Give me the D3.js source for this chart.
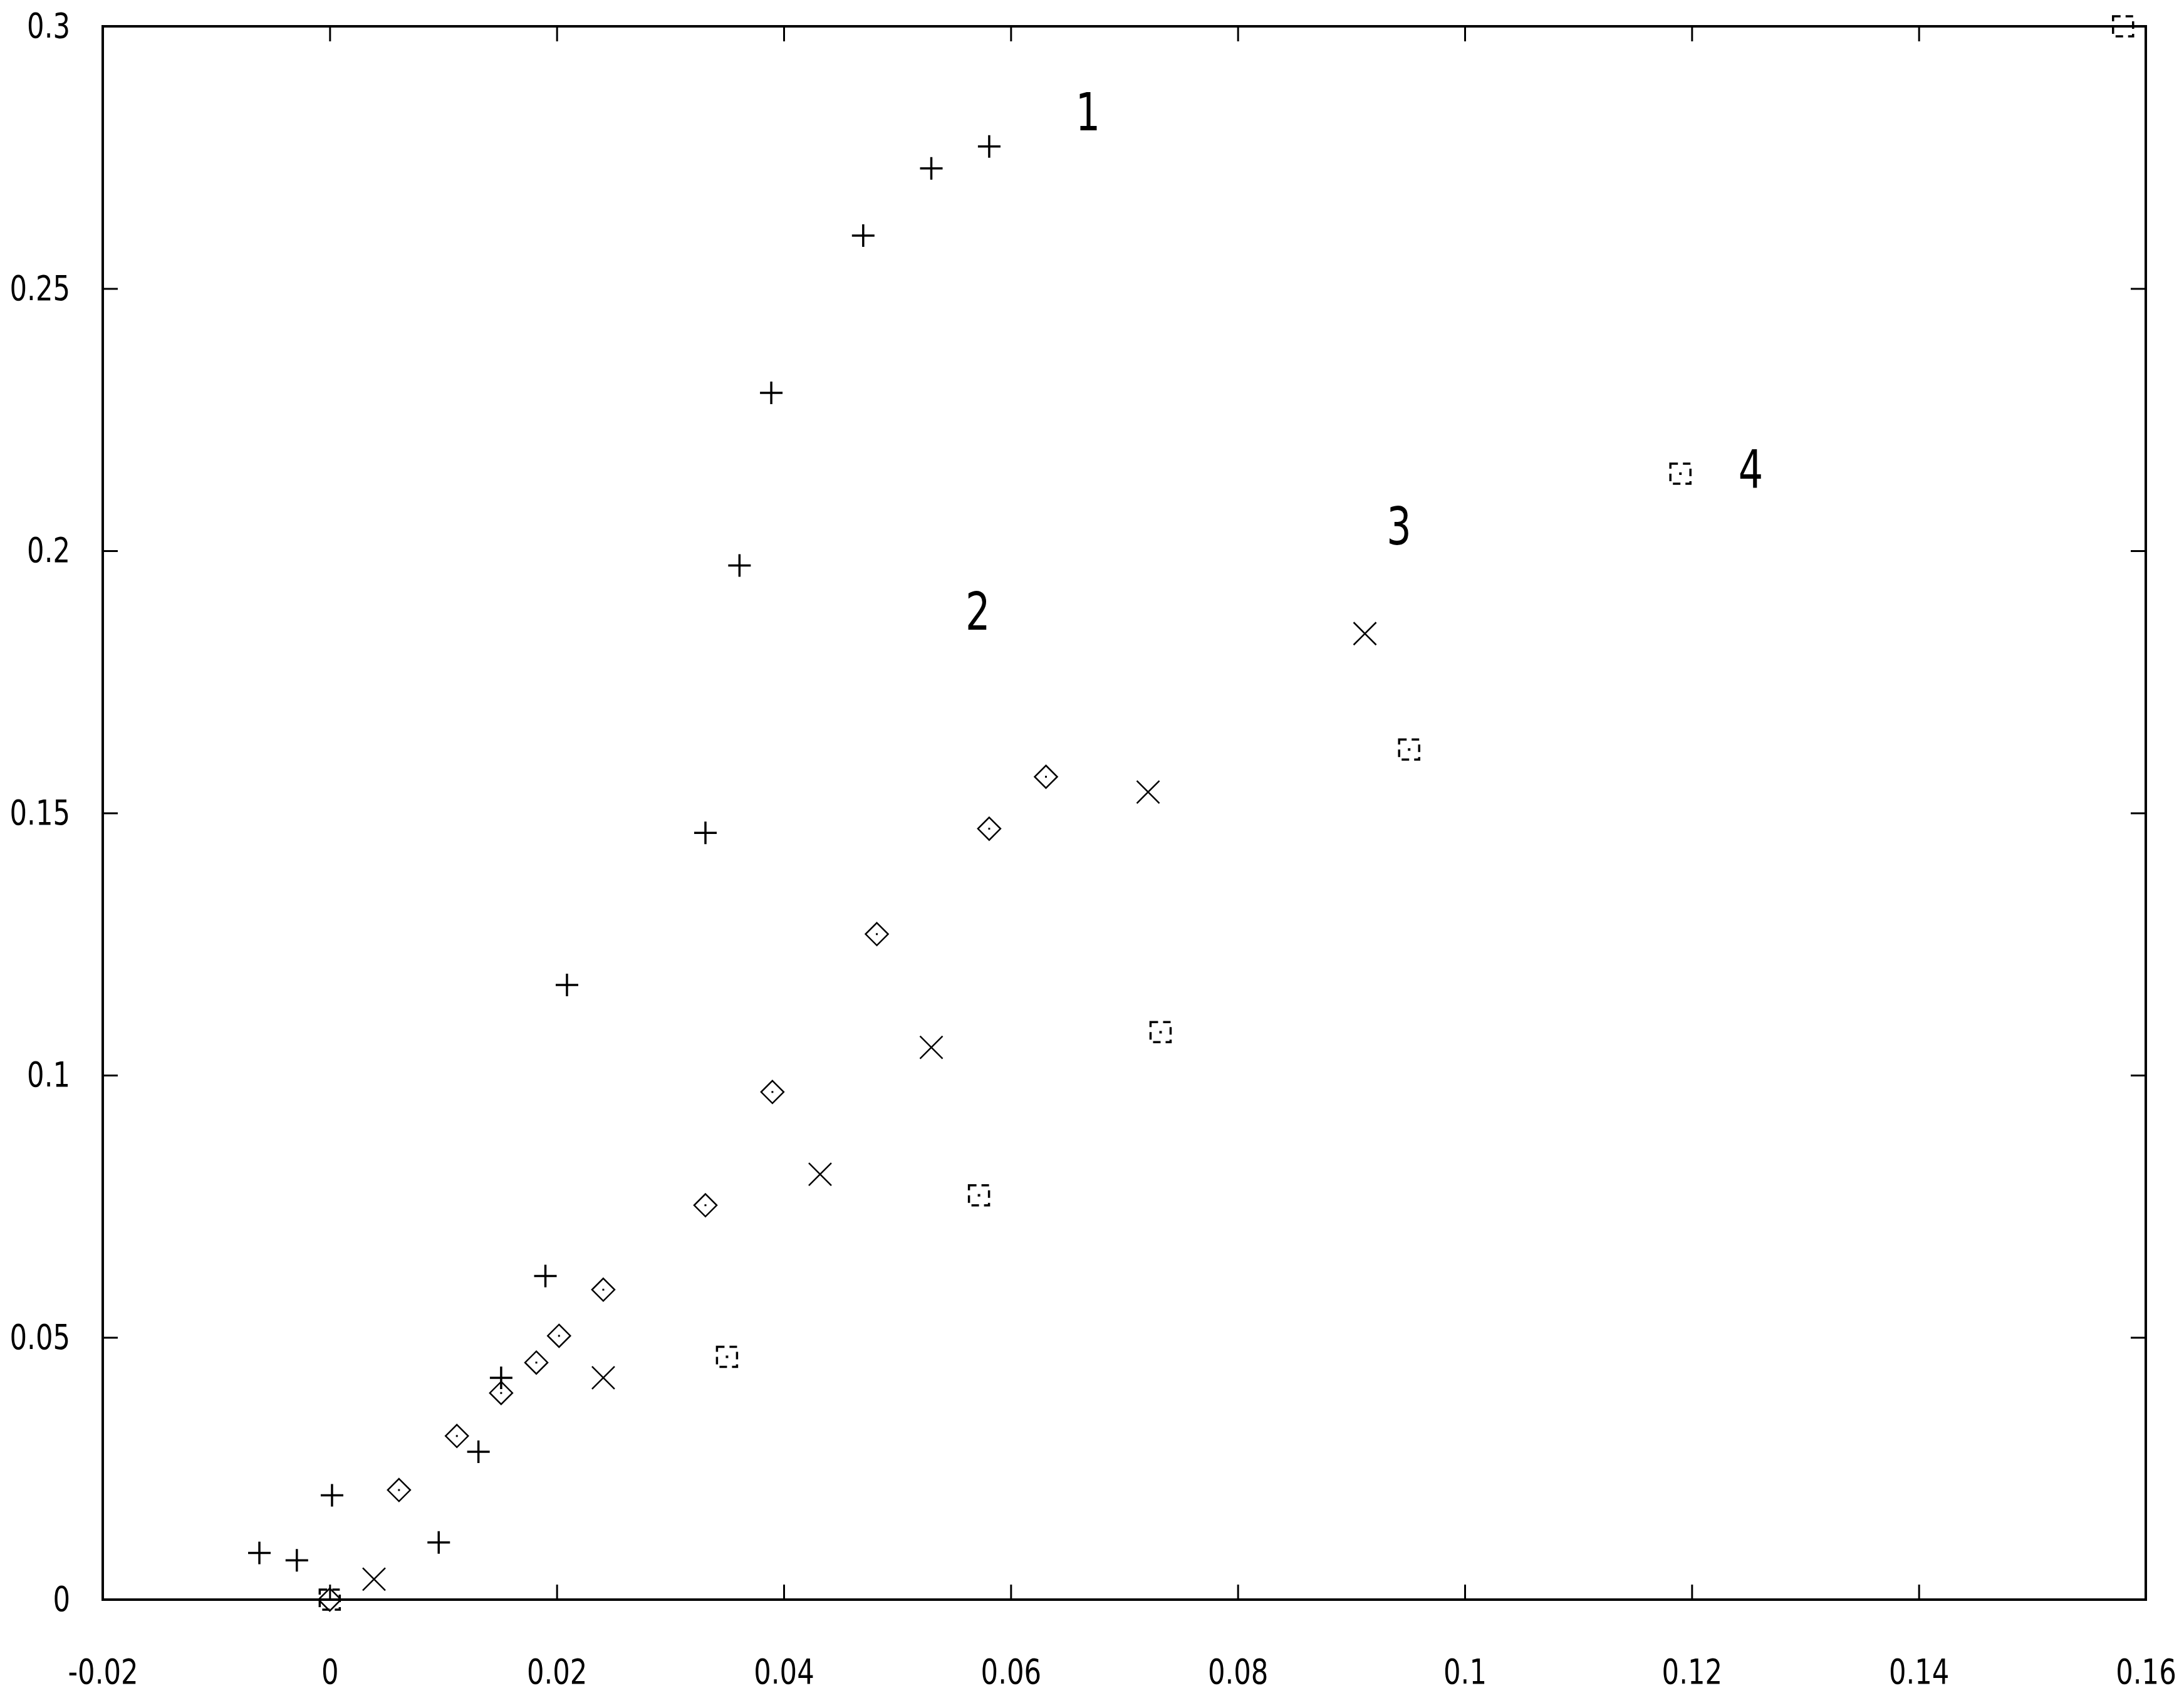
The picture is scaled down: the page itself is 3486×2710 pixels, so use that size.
<!DOCTYPE html>
<html>
<head>
<meta charset="utf-8">
<script src="https://cdn.jsdelivr.net/npm/d3@7"></script>
<style>
  html, body { margin: 0; padding: 0; background: #fff; }
  svg { display: block; }
  text { font-family: "Liberation Sans Narrow", "DejaVu Sans Condensed", "Liberation Sans", sans-serif; fill: #000; }
</style>
</head>
<body>
<script>
// ---- data ----
const xTicks = [-0.02, 0, 0.02, 0.04, 0.06, 0.08, 0.1, 0.12, 0.14, 0.16];
const yTicks = [0, 0.05, 0.1, 0.15, 0.2, 0.25, 0.3];

const s1x = [-0.0062, -0.0029, 0.0002, 0.0096, 0.0131, 0.0151, 0.0190, 0.0209, 0.0331, 0.0361, 0.0389, 0.0470, 0.0530, 0.0581];
const s1y = [0.0089, 0.0075, 0.0199, 0.0109, 0.0282, 0.0423, 0.0617, 0.1172, 0.1462, 0.1972, 0.2301, 0.2601, 0.2729, 0.2771];

const s2x = [0.0, 0.0061, 0.0112, 0.0151, 0.0182, 0.0202, 0.0241, 0.0331, 0.0390, 0.0482, 0.0581, 0.0631];
const s2y = [0.0, 0.0209, 0.0312, 0.0394, 0.0452, 0.0503, 0.0591, 0.0752, 0.0968, 0.1269, 0.1470, 0.1569];

const s3x = [0.0039, 0.0241, 0.0432, 0.0530, 0.0721, 0.0912];
const s3y = [0.0039, 0.0423, 0.0811, 0.1053, 0.1540, 0.1842];

const s4x = [0.0, 0.0350, 0.0572, 0.0732, 0.0951, 0.1190, 0.1580];
const s4y = [0.0, 0.0463, 0.0771, 0.1082, 0.1621, 0.2147, 0.3000];

const labelText = ["1", "2", "3", "4"];
const labelX = [0.0668, 0.0571, 0.0942, 0.1252];
const labelY = [0.2838, 0.1885, 0.2048, 0.2157];

// ---- layout ----
const W = 3486, H = 2710;
const L = 164, R = 3425, T = 42, B = 2553;

const svg = d3.select("body").append("svg").attr("width", W).attr("height", H);
svg.append("rect").attr("width", W).attr("height", H).attr("fill", "#fff");

const x = d3.scaleLinear().domain([-0.02, 0.16]).range([L, R]);
const y = d3.scaleLinear().domain([0, 0.3]).range([B, T]);

const fmt = d => (Math.abs(d) < 1e-12 ? "0" : String(+d.toFixed(4)));
const tickLen = 24;

function condense(sel, k) {
  sel.each(function () {
    const len = this.getComputedTextLength();
    if (len > 0) {
      d3.select(this).attr("textLength", len * k).attr("lengthAdjust", "spacingAndGlyphs");
    }
  });
}

function styleAxis(g) {
  g.select(".domain").remove();
  g.selectAll(".tick line").attr("stroke", "#000").attr("stroke-width", 3);
  g.selectAll(".tick text").attr("font-size", 56).attr("fill", "#000");
  condense(g.selectAll(".tick text"), 0.86);
}

svg.append("g").attr("transform", `translate(0,${B})`)
  .call(d3.axisBottom(x).tickValues(xTicks).tickFormat(fmt).tickSizeInner(-tickLen).tickSizeOuter(0).tickPadding(94))
  .call(styleAxis);
svg.append("g").attr("transform", `translate(0,${T})`)
  .call(d3.axisTop(x).tickValues(xTicks).tickFormat("").tickSizeInner(-tickLen).tickSizeOuter(0))
  .call(styleAxis);
svg.append("g").attr("transform", `translate(${L},0)`)
  .call(d3.axisLeft(y).tickValues(yTicks).tickFormat(fmt).tickSizeInner(-tickLen).tickSizeOuter(0).tickPadding(52))
  .call(styleAxis);
svg.append("g").attr("transform", `translate(${R},0)`)
  .call(d3.axisRight(y).tickValues(yTicks).tickFormat("").tickSizeInner(-tickLen).tickSizeOuter(0))
  .call(styleAxis);

// frame
svg.append("rect").attr("x", L).attr("y", T).attr("width", R - L).attr("height", B - T)
  .attr("fill", "none").attr("stroke", "#000").attr("stroke-width", 4);

const zip = (xs, ys) => xs.map((v, i) => ({ x: v, y: ys[i] }));
const h = 18;

// series 1: plus
svg.append("g").selectAll("path").data(zip(s1x, s1y)).join("path")
  .attr("transform", d => `translate(${x(d.x)},${y(d.y)})`)
  .attr("d", `M${-h},0H${h}M0,${-h}V${h}`)
  .attr("stroke", "#000").attr("stroke-width", 3.5).attr("fill", "none");

// series 2: diamond with center dot
const g2 = svg.append("g").selectAll("g").data(zip(s2x, s2y)).join("g")
  .attr("transform", d => `translate(${x(d.x)},${y(d.y)})`);
g2.append("path").attr("d", `M0,${-h}L${h},0L0,${h}L${-h},0Z`)
  .attr("stroke", "#000").attr("stroke-width", 2.5).attr("fill", "none");
g2.append("rect").attr("x", -1.5).attr("y", -1.5).attr("width", 3).attr("height", 3).attr("fill", "#000");

// series 3: cross
svg.append("g").selectAll("path").data(zip(s3x, s3y)).join("path")
  .attr("transform", d => `translate(${x(d.x)},${y(d.y)})`)
  .attr("d", `M${-h},${-h}L${h},${h}M${h},${-h}L${-h},${h}`)
  .attr("stroke", "#000").attr("stroke-width", 2.5).attr("fill", "none");

// series 4: dashed square with center dot
const hs = 16;
const g4 = svg.append("g").selectAll("g").data(zip(s4x, s4y)).join("g")
  .attr("transform", d => `translate(${x(d.x)},${y(d.y)})`);
g4.append("rect").attr("x", -hs).attr("y", -hs).attr("width", 2 * hs).attr("height", 2 * hs)
  .attr("stroke", "#000").attr("stroke-width", 3.5).attr("fill", "none")
  .attr("stroke-dasharray", "12,8");
g4.append("rect").attr("x", -2).attr("y", -2).attr("width", 4).attr("height", 4).attr("fill", "#000");

// curve labels
const lbl = svg.append("g").selectAll("text").data(labelText.map((t, i) => ({ t, x: labelX[i], y: labelY[i] }))).join("text")
  .attr("x", d => x(d.x)).attr("y", d => y(d.y))
  .attr("dy", "0.36em")
  .attr("text-anchor", "middle")
  .attr("font-size", 84)
  .text(d => d.t);
condense(lbl, 0.82);
</script>
</body>
</html>
